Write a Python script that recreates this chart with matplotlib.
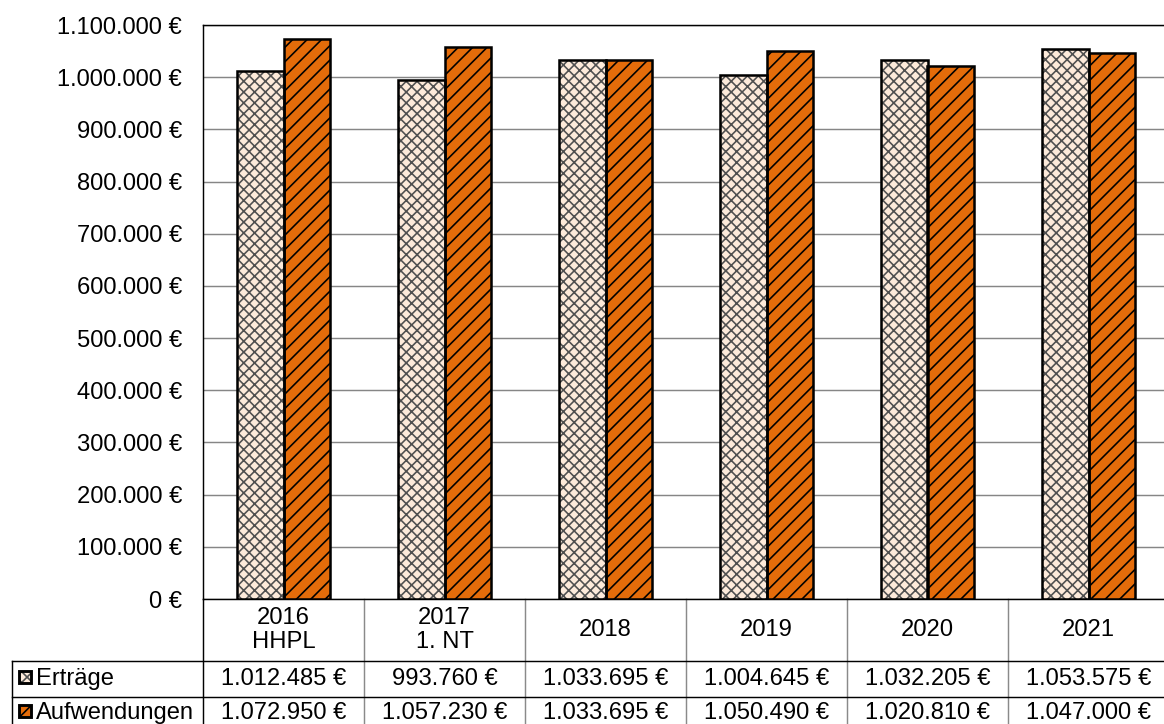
import matplotlib
matplotlib.use("Agg")
import matplotlib.pyplot as plt
from matplotlib.patches import Rectangle
from matplotlib.lines import Line2D

categories = ["2016\nHHPL", "2017\n1. NT", "2018", "2019", "2020", "2021"]
ertraege = [1012485, 993760, 1033695, 1004645, 1032205, 1053575]
aufwendungen = [1072950, 1057230, 1033695, 1050490, 1020810, 1047000]
series_names = ["Erträge", "Aufwendungen"]
y_ticks = [0, 100000, 200000, 300000, 400000, 500000, 600000, 700000,
           800000, 900000, 1000000, 1100000]

DPI = 130
W, H = 1164, 724
plt.rcParams['font.family'] = ['Liberation Sans', 'DejaVu Sans']
plt.rcParams['hatch.linewidth'] = 0.9
FS = 13.2

def eur(v):
    return f"{v:,.0f}".replace(",", ".") + " €"

fig = plt.figure(figsize=(W / DPI, H / DPI), dpi=DPI)
left_px, right_px, top_px, bottom_px = 203, 203 + 6 * 161, 25, 599
ax = fig.add_axes([left_px / W, 1 - bottom_px / H,
                   (right_px - left_px) / W, (bottom_px - top_px) / H])

n = len(categories)
xs = list(range(n))
bw = 0.29
fills = ["#FDEADA", "#E46C0A"]
hcols = ["#505050", "#000000"]
hatches = ["xxxx", "///"]
for k, vals in enumerate([ertraege, aufwendungen]):
    pos = [x + (k - 0.5) * bw for x in xs]
    ax.bar(pos, vals, width=bw, color=fills[k], edgecolor=hcols[k],
           hatch=hatches[k], linewidth=0, zorder=3)
    ax.bar(pos, vals, width=bw, facecolor="none", edgecolor="black",
           linewidth=1.4, zorder=4)

ax.set_xlim(-0.5, n - 0.5)
ax.set_ylim(0, 1100000)
ax.set_yticks(y_ticks)
ax.set_yticklabels([eur(v) for v in y_ticks], fontsize=FS)
ax.tick_params(axis='y', length=0, pad=11.5)
ax.set_xticks([])
ax.yaxis.grid(True, color="#868686", linewidth=0.8, zorder=0)
ax.set_axisbelow(True)
for s in ["left", "top", "bottom"]:
    ax.spines[s].set_color("black")
    ax.spines[s].set_linewidth(0.8)
ax.spines["right"].set_visible(False)

# table below the axes
tr = ax.get_xaxis_transform()
ph = bottom_px - top_px
def yax(py):
    return -(py - bottom_px) / ph

y_r1 = yax(660.5)
y_r2 = yax(696.5)
y_bot = yax(740)
x_leftcol = -0.5 - (203 - 12) / 161.0

for i in range(n + 1):
    xb = i - 0.5
    col = "black" if i == 0 else "#8a8a8a"
    ax.add_line(Line2D([xb, xb], [0, y_bot], transform=tr, color=col,
                       linewidth=0.8, clip_on=False))
ax.add_line(Line2D([x_leftcol, x_leftcol], [y_r1, y_bot], transform=tr,
                   color="black", linewidth=0.8, clip_on=False))
for yy in [y_r1, y_r2]:
    ax.add_line(Line2D([x_leftcol, n], [yy, yy], transform=tr,
                       color="black", linewidth=0.8, clip_on=False))

for i, c in enumerate(categories):
    ax.text(i, yax(630), c, transform=tr, ha="center", va="center",
            fontsize=FS, linespacing=1.15, clip_on=False)
    ax.text(i, yax(679), eur(ertraege[i]), transform=tr, ha="center",
            va="center", fontsize=FS, clip_on=False)
    ax.text(i, yax(713), eur(aufwendungen[i]), transform=tr, ha="center",
            va="center", fontsize=FS, clip_on=False)

for k, (yc, name) in enumerate([(677, series_names[0]), (711, series_names[1])]):
    x0, s = 19, 12
    r = Rectangle((x0 / W, 1 - (yc + s / 2) / H), s / W, s / H,
                  transform=fig.transFigure, facecolor=fills[k],
                  edgecolor=hcols[k], hatch=hatches[k], linewidth=0)
    fig.add_artist(r)
    r2 = Rectangle((x0 / W, 1 - (yc + s / 2) / H), s / W, s / H,
                   transform=fig.transFigure, facecolor="none",
                   edgecolor="black", linewidth=1.6)
    fig.add_artist(r2)
    fig.text(36 / W, 1 - (yc + 2) / H, name, ha="left", va="center",
             fontsize=FS)

fig.savefig("out.png", dpi=DPI)
